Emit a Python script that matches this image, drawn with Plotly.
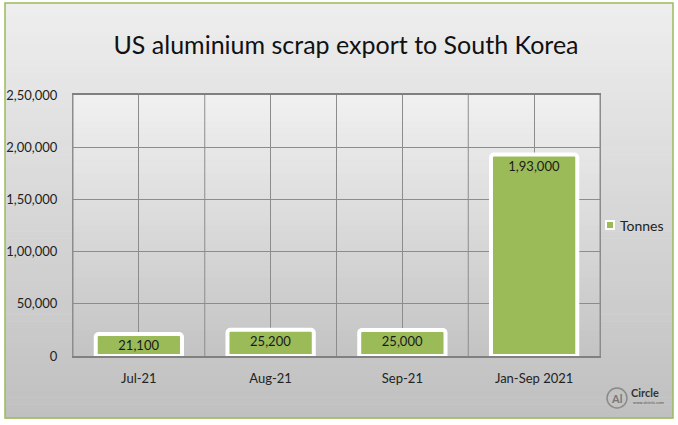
import plotly.graph_objects as go

categories = ["Jul-21", "Aug-21", "Sep-21", "Jan-Sep 2021"]
tonnes = [21100, 25200, 25000, 193000]
value_labels = ["21,100", "25,200", "25,000", "1,93,000"]
series_name = "Tonnes"
y_tickvals = [0, 50000, 100000, 150000, 200000, 250000]
y_ticktext = ["0", "50,000", "1,00,000", "1,50,000", "2,00,000", "2,50,000"]

W, H = 678, 425
L, R, T, B = 73, 600, 95, 356  # plot area in pixels
GREEN = "#9BBB59"

def px_x(px):
    return (px - L) / (R - L)

def px_y(py):
    return (B - py) / (B - T)

def lerp(c1, c2, t):
    return "rgb(%d,%d,%d)" % tuple(round(a + (b - a) * t) for a, b in zip(c1, c2))

shapes = []
# Chart background gradient
n = 60
top_c, bot_c = (238, 238, 238), (192, 192, 192)
y0p, y1p = 3, 418
for i in range(n):
    a = y0p + (y1p - y0p) * i / n
    b = y0p + (y1p - y0p) * (i + 1) / n + 0.6
    shapes.append(dict(type="rect", xref="paper", yref="paper",
                       x0=px_x(5), x1=px_x(673), y0=px_y(b), y1=px_y(a),
                       fillcolor=lerp(top_c, bot_c, i / (n - 1)),
                       line=dict(width=0), layer="below"))
# Plot area gradient
m = 40
ptop, pbot = (240, 240, 240), (196, 196, 196)
for i in range(m):
    a = T + (B - T) * i / m
    b = T + (B - T) * (i + 1) / m + 0.6
    shapes.append(dict(type="rect", xref="paper", yref="paper",
                       x0=0, x1=1, y0=px_y(b), y1=px_y(a),
                       fillcolor=lerp(ptop, pbot, i / (m - 1)),
                       line=dict(width=0), layer="below"))
# Outer green border
shapes.append(dict(type="rect", xref="paper", yref="paper",
                   x0=px_x(5), x1=px_x(673), y0=px_y(418), y1=px_y(3),
                   line=dict(color=GREEN, width=1.5), fillcolor="rgba(0,0,0,0)",
                   layer="above"))
# Category boundary gridlines
for i in range(len(categories) + 1):
    shapes.append(dict(type="line", xref="x", yref="paper",
                       x0=i - 0.5, x1=i - 0.5, y0=0, y1=1,
                       line=dict(color="#8c8c8c", width=1), layer="below"))
# Legend key
shapes.append(dict(type="rect", xref="paper", yref="paper",
                   x0=px_x(606), x1=px_x(614), y0=px_y(229), y1=px_y(221),
                   fillcolor=GREEN, line=dict(color="white", width=2)))
# Logo circle
shapes.append(dict(type="circle", xref="paper", yref="paper",
                   x0=px_x(607), x1=px_x(627), y0=px_y(408), y1=px_y(388),
                   line=dict(color="#8a8a8a", width=1.5), fillcolor="rgba(0,0,0,0)"))

fig = go.Figure()
fig.add_trace(go.Bar(
    x=categories, y=tonnes, name=series_name,
    marker=dict(color=GREEN, line=dict(color="white", width=4), cornerradius=3),
    width=0.655,
    text=value_labels, textposition="inside", insidetextanchor="end",
    textfont=dict(family="Lato, Carlito, sans-serif", size=13, color="#1a1a1a"),
    textangle=0, showlegend=False,
))

fig.update_layout(
    width=W, height=H,
    margin=dict(l=L, r=W - R, t=T, b=H - B, autoexpand=False),
    paper_bgcolor="white",
    plot_bgcolor="rgba(0,0,0,0)",
    shapes=shapes,
    title=dict(text="US aluminium scrap export to South Korea",
               x=346 / W, xref="container", xanchor="center",
               y=1 - 45 / H, yref="container", yanchor="middle",
               font=dict(family="Lato, Carlito, sans-serif", size=25, color="#111111")),
    font=dict(family="Lato, Carlito, sans-serif", size=13, color="#222222"),
    showlegend=False,
    annotations=[
        dict(text=series_name, xref="paper", yref="paper", x=px_x(618), y=px_y(225),
             xanchor="left", yanchor="middle", showarrow=False,
             font=dict(size=14, color="#222222")),
        dict(text="<b>Al</b>", xref="paper", yref="paper", x=px_x(617), y=px_y(398),
             xanchor="center", yanchor="middle", showarrow=False,
             font=dict(size=11, color="#777777", family="Lato")),
        dict(text="<b>Circle</b>", xref="paper", yref="paper", x=px_x(629), y=px_y(392),
             xanchor="left", yanchor="middle", showarrow=False,
             font=dict(size=11, color="#333333", family="Lato")),
        dict(text="www.alcircle.com", xref="paper", yref="paper", x=px_x(631), y=px_y(402),
             xanchor="left", yanchor="middle", showarrow=False,
             font=dict(size=4, color="#555555", family="Lato")),
    ],
)
fig.update_xaxes(
    type="category", showgrid=True, gridcolor="#8c8c8c", gridwidth=1,
    showline=True, linecolor="#808080", linewidth=1.5, mirror=True,
    ticks="", tickfont=dict(size=13, color="#222222"), ticklabelstandoff=10,
    range=[-0.5, len(categories) - 0.5], layer="below traces",
)
fig.update_yaxes(
    range=[0, 250000], tickvals=y_tickvals, ticktext=y_ticktext,
    showgrid=True, gridcolor="#8c8c8c", gridwidth=1, zeroline=False,
    showline=True, linecolor="#8c8c8c", linewidth=1, mirror=True,
    ticks="", tickfont=dict(size=13, color="#222222"), ticklabelstandoff=12,
)

fig.write_html("out.html")
